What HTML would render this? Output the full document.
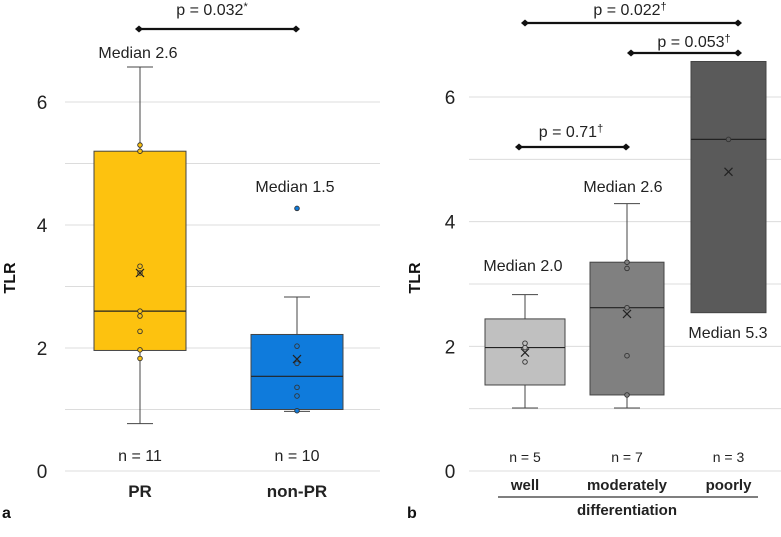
<!DOCTYPE html>
<html><head><meta charset="utf-8"><style>
body{margin:0;background:#fff;}
svg{display:block;font-family:"Liberation Sans",Arial,sans-serif;}
</style></head><body>
<svg id="c" width="781" height="537"></svg>
<script>
const NS="http://www.w3.org/2000/svg";
const svg=document.getElementById('c');
// Panel a data
const catsA=["PR","non-PR"];
const statsA=[[0.77,1.96,2.6,5.2,6.57],[0.97,1.0,1.54,2.22,2.83]];
const meansA=[3.22,1.82];
const ptsA=[[5.3,5.2,3.33,3.22,2.6,2.52,2.27,1.97,1.83],[2.03,1.75,1.36,1.22,0.98]];
const outA=[[],[4.27]];
const nA=["n = 11","n = 10"];
const medLblA=["Median 2.6","Median 1.5"];
// Panel b data
const catsB=["well","moderately","poorly"];
const statsB=[[1.01,1.38,1.98,2.44,2.83],[1.01,1.22,2.62,3.35,4.29],[2.54,2.54,5.32,6.57,6.57]];
const meansB=[1.9,2.52,4.8];
const ptsB=[[2.05,1.98,1.75],[3.35,3.25,2.62,1.85,1.22],[5.32]];
const nB=["n = 5","n = 7","n = 3"];
const medLblB=["Median 2.0","Median 2.6","Median 5.3"];
const ticks=[0,2,4,6];

function el(t,a,p){const e=document.createElementNS(NS,t);for(const k in a)e.setAttribute(k,a[k]);(p||svg).appendChild(e);return e;}
function txt(s,a){const e=el('text',a);e.textContent=s;return e;}

const yA=v=>471-v*61.5, yB=v=>471-v*62.33;
for(let i=0;i<=6;i++){
 const g=el('line',{x1:65,x2:380,y1:yA(i),y2:yA(i),stroke:'#dcdcdc','stroke-width':1});
 
 const h=el('line',{x1:469,x2:781,y1:yB(i),y2:yB(i),stroke:'#dcdcdc','stroke-width':1});
 
}
ticks.forEach(t=>{
 const a=txt(t,{x:42,y:yA(t)+7,'font-size':19,'text-anchor':'middle',fill:'#222'});
 
 const b=txt(t,{x:450,y:yB(t)+7,'font-size':19,'text-anchor':'middle',fill:'#222'});
 
});
function box(cx,w,s,y,fill,mean,pts,outs,name){
 const g=el('g',{});
 
 el('line',{x1:cx,x2:cx,y1:y(s[0]),y2:y(s[4]),stroke:'#444'},g);
 if(s[0]<s[1]) el('line',{x1:cx-13,x2:cx+13,y1:y(s[0]),y2:y(s[0]),stroke:'#444'},g);
 if(s[4]>s[3]) el('line',{x1:cx-13,x2:cx+13,y1:y(s[4]),y2:y(s[4]),stroke:'#444'},g);
 el('rect',{x:cx-w/2,y:y(s[3]),width:w,height:y(s[1])-y(s[3]),fill:fill,stroke:'#444'},g);
 el('line',{x1:cx-w/2,x2:cx+w/2,y1:y(s[2]),y2:y(s[2]),stroke:'#222','stroke-width':1.2},g);
 pts.forEach(p=>el('circle',{cx:cx,cy:y(p),r:2.3,fill:fill,stroke:'#333','stroke-width':0.9},g));
 outs.forEach(p=>el('circle',{cx:cx,cy:y(p),r:2.3,fill:fill,stroke:'#333','stroke-width':0.9},g));
 const m=y(mean);
 el('path',{d:`M${cx-4} ${m-4}L${cx+4} ${m+4}M${cx+4} ${m-4}L${cx-4} ${m+4}`,stroke:'#222','stroke-width':1.2},g);
}
const cxA=[140,297], fillA=['#fdc20f','#0f7bdc'];
catsA.forEach((c,i)=>{
 box(cxA[i],92,statsA[i],yA,fillA[i],meansA[i],ptsA[i],outA[i],'box-'+c.toLowerCase());
 const n=txt(nA[i],{x:cxA[i],y:461,'font-size':16,'text-anchor':'middle',fill:'#222'});
 
 const l=txt(c,{x:cxA[i],y:497,'font-size':17,'font-weight':'bold','text-anchor':'middle',fill:'#222'});
 
});
const ma=txt(medLblA[0],{x:138,y:58,'font-size':16,'text-anchor':'middle',fill:'#222'});

const mb=txt(medLblA[1],{x:295,y:192,'font-size':16,'text-anchor':'middle',fill:'#222'});


const cxB=[525,627,728.5], wB=[80,74,75], fillB=['#c0c0c0','#808080','#5a5a5a'];
catsB.forEach((c,i)=>{
 box(cxB[i],wB[i],statsB[i],yB,fillB[i],meansB[i],ptsB[i],[],'box-'+c);
 const n=txt(nB[i],{x:cxB[i],y:462,'font-size':14,'text-anchor':'middle',fill:'#222'});
 
 const l=txt(c,{x:cxB[i],y:490,'font-size':15,'font-weight':'bold','text-anchor':'middle',fill:'#222'});
 
});
[[medLblB[0],523,271],[medLblB[1],623,192],[medLblB[2],728,338]].forEach(m=>{
 const t=txt(m[0],{x:m[1],y:m[2],'font-size':16,'text-anchor':'middle',fill:'#222'});
 
});
function bracket(x1,x2,y,label,sup,lx,ly,name){
 const g=el('g',{});
 
 el('line',{x1:x1,x2:x2,y1:y,y2:y,stroke:'#111','stroke-width':2.2},g);
 [x1,x2].forEach(x=>el('path',{d:`M${x-4} ${y}L${x} ${y-3.5}L${x+4} ${y}L${x} ${y+3.5}Z`,fill:'#111'},g));
 const t=el('text',{x:lx,y:ly,'font-size':16,'text-anchor':'middle',fill:'#222'},g);
 t.textContent=label;
 const s=el('tspan',{'font-size':11,dy:-5},t);s.textContent=sup;
}
bracket(139,296,29,'p = 0.032','*',212,15,'p-bracket-pr-nonpr');
bracket(525,738,23,'p = 0.022','†',630,15,'p-bracket-well-poorly');
bracket(631,738,53,'p = 0.053','†',694,47,'p-bracket-moderately-poorly');
bracket(519,626,147,'p = 0.71','†',571,137,'p-bracket-well-moderately');

const ta=txt('TLR',{x:0,y:0,'font-size':16,'font-weight':'bold','text-anchor':'middle',fill:'#111',transform:'translate(15,278) rotate(-90)'});

const tb=txt('TLR',{x:0,y:0,'font-size':16,'font-weight':'bold','text-anchor':'middle',fill:'#111',transform:'translate(420,278) rotate(-90)'});

const ul=el('line',{x1:498,x2:758,y1:497,y2:497,stroke:'#333','stroke-width':1.2});

const df=txt('differentiation',{x:627,y:515,'font-size':15,'font-weight':'bold','text-anchor':'middle',fill:'#222'});

const pa=txt('a',{x:2,y:518,'font-size':16,'font-weight':'bold',fill:'#111'});

const pb=txt('b',{x:407,y:518,'font-size':16,'font-weight':'bold',fill:'#111'});

</script>
</body></html>
